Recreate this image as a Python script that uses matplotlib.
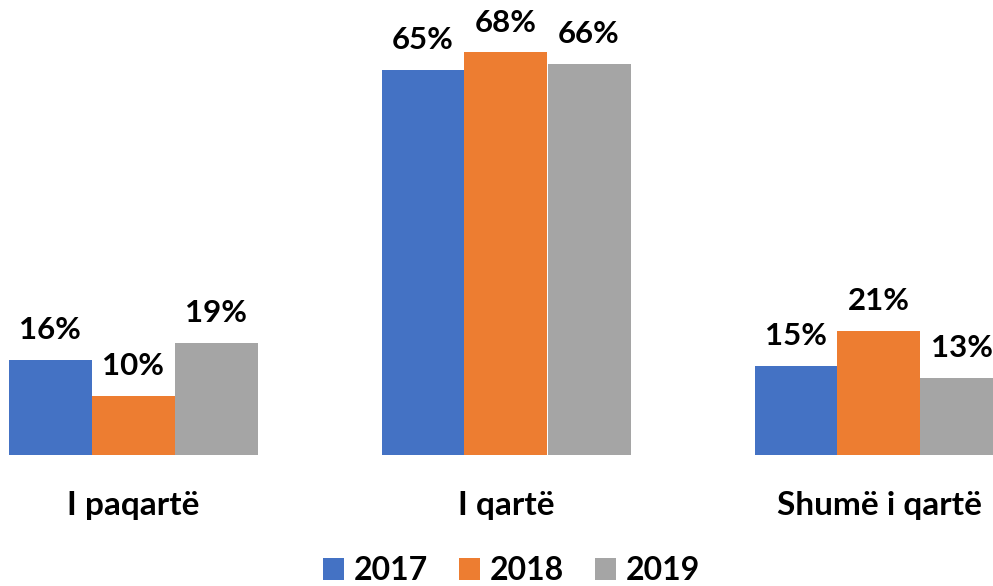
import numpy as np
import matplotlib.pyplot as plt

categories = ["I paqartë", "I qartë", "Shumë i qartë"]
years = ["2017", "2018", "2019"]
v2017 = [16, 65, 15]
v2018 = [10, 68, 21]
v2019 = [19, 66, 13]
colors = ["#4472C4", "#ED7D31", "#A5A5A5"]

plt.rcParams['font.family'] = ['Lato', 'DejaVu Sans']

fig = plt.figure(figsize=(9.93, 5.86), dpi=100)
ax = fig.add_axes([0, 131 / 586, 1, 444 / 586])

x = np.arange(len(categories))
w = 83 / 373
for i, (vals, yr, c) in enumerate(zip([v2017, v2018, v2019], years, colors)):
    pos = x + (i - 1) * w
    bars = ax.bar(pos, vals, width=w, color=c, label=yr)
    for b, v in zip(bars, vals):
        ax.annotate(f"{v}%", (b.get_x() + b.get_width() / 2, v),
                    xytext=(0, 15), textcoords="offset points",
                    ha="center", va="baseline", fontsize=22.5, fontweight="bold")

ax.set_xlim(-133 / 373, (993 - 133) / 373)
ax.set_ylim(0, 75)
ax.axis("off")

for xi, cat in zip(x, categories):
    ax.text(xi, -8.6, cat, ha="center", va="center", fontsize=24,
            fontweight="bold")

fig.legend(loc="center", bbox_to_anchor=(0.515, 0.026), ncol=3, frameon=False,
           prop={"size": 23, "weight": "bold"}, handlelength=0.66,
           handleheight=0.66, handletextpad=0.32, columnspacing=0.95)

fig.savefig("out.png", dpi=100)
